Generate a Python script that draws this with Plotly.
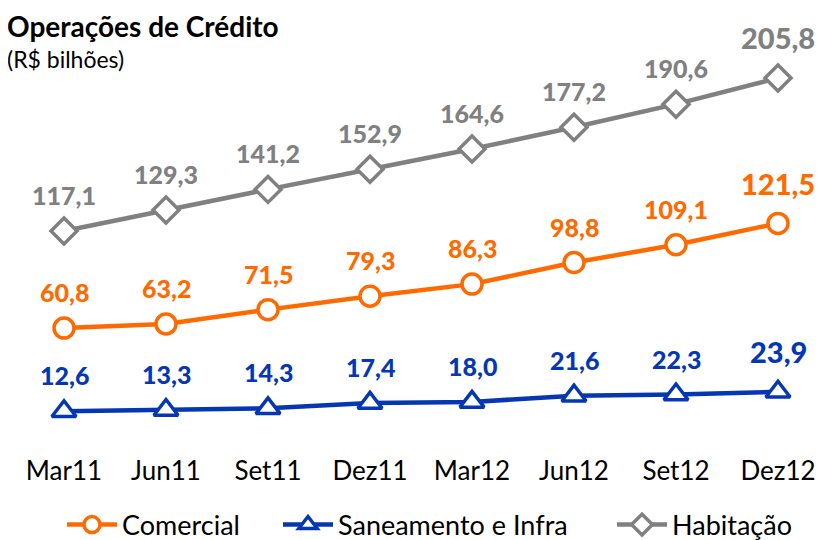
import plotly.graph_objects as go

categories = ["Mar11", "Jun11", "Set11", "Dez11", "Mar12", "Jun12", "Set12", "Dez12"]
comercial = [60.8, 63.2, 71.5, 79.3, 86.3, 98.8, 109.1, 121.5]
saneamento = [12.6, 13.3, 14.3, 17.4, 18.0, 21.6, 22.3, 23.9]
habitacao = [117.1, 129.3, 141.2, 152.9, 164.6, 177.2, 190.6, 205.8]

ORANGE = "#FF6A00"
BLUE = "#0537B4"
GRAY = "#808080"
FONT = "Lato"

W, H = 821, 532  # page body has an 8px margin

fig = go.Figure()
series = [
    ("Comercial", comercial, ORANGE, "circle", 20, "legend", 54),
    ("Saneamento e Infra", saneamento, BLUE, "triangle-up", 21, "legend2", 270),
    ("Habitação", habitacao, GRAY, "diamond", 20, "legend3", 604),
]
x_idx = list(range(len(categories)))
for name, vals, col, sym, size, lg, _ in series:
    fig.add_trace(go.Scatter(
        x=x_idx, y=vals, name=name, mode="lines+markers", legend=lg,
        line=dict(color=col, width=4.5),
        marker=dict(symbol=sym, size=size, color="white",
                    line=dict(color=col, width=3.5)),
        cliponaxis=False,
    ))
    for i, v in enumerate(vals):
        last = i == len(vals) - 1
        fig.add_annotation(
            x=i, y=v, text=f"{v:.1f}".replace(".", ","), showarrow=False,
            yshift=40 if last else 36,
            font=dict(family=FONT, size=29 if last else 25, color=col, weight=900),
        )

fig.add_annotation(xref="paper", yref="paper", x=0, y=1, yanchor="top", xanchor="left",
                   text="Operações de Crédito", showarrow=False, xshift=-3,
                   font=dict(family=FONT, size=28, color="black", weight="bold"), yshift=13)

fig.add_annotation(xref="paper", yref="paper", x=0, y=1, yanchor="top", xanchor="left",
                   text="(R$ bilhões)", showarrow=False, xshift=-3,
                   font=dict(family=FONT, size=23, color="black"), yshift=-23)

T, B = 12, 87
plot_h = H - T - B
legend_common = dict(orientation="h", yanchor="middle", y=(H - B - 517) / plot_h,
                     xanchor="left",
                     font=dict(family=FONT, size=27, color="black", weight="normal"),
                     itemwidth=50, bgcolor="rgba(0,0,0,0)", borderwidth=0)
layout_legends = {}
for name, vals, col, sym, size, lg, px in series:
    layout_legends[lg] = dict(legend_common, x=px / W)

fig.update_layout(
    width=W, height=H,
    margin=dict(l=0, r=0, t=T, b=B, autoexpand=False),
    plot_bgcolor="white", paper_bgcolor="white",
    showlegend=True,
    xaxis=dict(range=[-0.549, 7.5], tickmode="array", tickvals=x_idx, ticktext=categories,
               showgrid=False, zeroline=False, showline=False, ticks="", automargin=False,
               tickfont=dict(family=FONT, size=26, color="black", weight="normal")),
    yaxis=dict(range=[-11.6, 239.4], visible=False, showgrid=False, zeroline=False,
               automargin=False),
    **layout_legends,
)

fig.write_html("out.html")
